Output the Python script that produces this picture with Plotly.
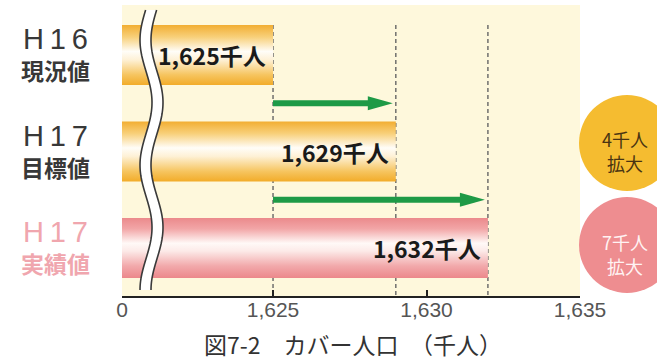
import numpy as np
import plotly.graph_objects as go

# ---- data -------------------------------------------------------------
era_labels = ["H16", "H17", "H17"]
kind_labels = ["現況値", "目標値", "実績値"]
cover_population = [1625, 1629, 1632]          # カバー人口（千人）
tick_values = [1625, 1630, 1635]
tick_labels = ["1,625", "1,630", "1,635"]
floor_label = "0"
badge_word = "拡大"
chart_title = "図7-2　カバー人口　（千人）"

# ---- geometry / style --------------------------------------------------
W, H = 657, 360
ML, MR, MT, MB = 122, 77, 5, 64
PW, PH = W - ML - MR, H - MT - MB
X_FLOOR, X_MAX = 1620.08, 1635          # broken axis: left edge stands for 0
Y_RANGE = [2.497, -0.518]
PX_X = PW / (X_MAX - X_FLOOR)
PX_Y = PH / (Y_RANGE[0] - Y_RANGE[1])
HALF = 0.31                             # half bar thickness (y units)

ORANGE = [[0, "#F2AC2A"], [0.17, "#F6C560"], [0.42, "#FEF1D6"], [0.56, "#FFFDF8"],
          [0.8, "#F8D07A"], [1, "#F2AE33"]]
PINK = [[0, "#EC888B"], [0.2, "#F2A9AB"], [0.45, "#FCEAE8"], [0.58, "#FFF9F7"],
        [0.82, "#F2A6A7"], [1, "#EB8A8C"]]
LABEL_COLORS = ["#383838", "#383838", "#F0A6AE"]
GREEN = "#1E9A46"


def px_to_paper(px, py):
    return (px - ML) / PW, 1 - (py - MT) / PH


fig = go.Figure()

# dashed reference lines at each value (behind the bars)
for v in cover_population:
    fig.add_shape(type="line", xref="x", yref="y", x0=v, x1=v,
                  y0=-HALF, y1=Y_RANGE[0], layer="below",
                  line=dict(color="#666666", width=1.4, dash="4px,3px"))

# gradient bars
scales = [ORANGE, ORANGE, PINK]
for i, v in enumerate(cover_population):
    fig.add_trace(go.Scatter(
        x=[0, v, v, 0, 0],
        y=[i - HALF, i - HALF, i + HALF, i + HALF, i - HALF],
        mode="lines", fill="toself", line=dict(width=0),
        fillgradient=dict(type="vertical", colorscale=scales[i]),
        hoverinfo="skip"))
    fig.add_annotation(x=v, y=i, xref="x", yref="y", text=f"{v:,}千人",
                       showarrow=False, xanchor="right", yanchor="middle", xshift=-5,
                       font=dict(family="Noto Sans CJK JP", size=23,
                                 color="#1A1A1A", weight="bold"))

# green increase arrows from the H16 value
shaft, head_h, head_l, tip_gap = 3 / PX_Y, 7 / PX_Y, 25 / PX_X, 3 / PX_X
base = cover_population[0]
for k, v in enumerate(cover_population[1:]):
    yc = k + 0.5
    tip = v - tip_gap
    xs = [base, tip - head_l, tip - head_l, tip, tip - head_l, tip - head_l, base, base]
    ys = [yc - shaft, yc - shaft, yc - head_h, yc, yc + head_h, yc + shaft, yc + shaft, yc - shaft]
    fig.add_trace(go.Scatter(x=xs, y=ys, mode="lines", fill="toself",
                             fillcolor=GREEN, line=dict(width=0, color=GREEN),
                             hoverinfo="skip"))

# axis break: double wavy line
ys_px = np.linspace(10, 290, 141)
left_px = 146 - 6 * np.cos(2 * np.pi * (ys_px - 40) / 125)
right_px = left_px + 11


def path_of(xs, ys, close=False):
    pts = [px_to_paper(a, b) for a, b in zip(xs, ys)]
    d = "M" + " L".join(f"{p[0]:.5f},{p[1]:.5f}" for p in pts)
    return d + (" Z" if close else "")


fig.add_shape(type="path", xref="paper", yref="paper", layer="above",
              path=path_of(np.r_[left_px, right_px[::-1]], np.r_[ys_px, ys_px[::-1]], True),
              fillcolor="white", line=dict(width=0))
for xs in (left_px, right_px):
    fig.add_shape(type="path", xref="paper", yref="paper", layer="above",
                  path=path_of(xs, ys_px), line=dict(color="#3A3A3A", width=1.6))

# row labels on the left
for i in range(3):
    xp, _ = px_to_paper(55, 0)
    fig.add_annotation(x=xp, y=i, xref="paper", yref="y", yshift=16,
                       xanchor="center", yanchor="middle",
                       text="\u2009".join(era_labels[i]), showarrow=False,
                       font=dict(family="Liberation Sans", size=29, color=LABEL_COLORS[i]))
    fig.add_annotation(x=xp, y=i, xref="paper", yref="y", yshift=-15,
                       xanchor="center", yanchor="middle",
                       text=kind_labels[i], showarrow=False,
                       font=dict(family="Noto Sans CJK JP", size=23,
                                 color=LABEL_COLORS[i], weight="bold"))

# increase badges
badges = [("#F5BC30", "#4A3412", 143, 139), ("#EE8D90", "#FFF3F3", 245, 242)]
for (fill, txt, cy, ty), v in zip(badges, cover_population[1:]):
    r = 48
    x0, y0 = px_to_paper(627 - r, cy + r)
    x1, y1 = px_to_paper(627 + r, cy - r)
    fig.add_shape(type="circle", xref="paper", yref="paper", x0=x0, y0=y0, x1=x1, y1=y1,
                  fillcolor=fill, line=dict(width=0), layer="above")
    for line_text, dy in ((f"{v - base}千人", 0), (badge_word, 24)):
        tx, typ = px_to_paper(625, ty + dy)
        fig.add_annotation(x=tx, y=typ, xref="paper", yref="paper",
                           xanchor="center", yanchor="middle", borderpad=0,
                           text=line_text, showarrow=False,
                           font=dict(family="Noto Sans CJK JP", size=18, color=txt))

# caption
cx, cy = px_to_paper(353, 344)
fig.add_annotation(x=cx, y=cy, xref="paper", yref="paper", text=chart_title,
                   xanchor="center", yanchor="middle", showarrow=False,
                   font=dict(family="Noto Sans CJK JP", size=23, color="#333333"))

fig.update_layout(
    width=W, height=H, margin=dict(l=ML, r=MR, t=MT, b=MB),
    paper_bgcolor="white", plot_bgcolor="#FEF8DC", showlegend=False,
    xaxis=dict(range=[X_FLOOR, X_MAX], tickvals=[X_FLOOR] + tick_values,
               ticktext=[floor_label] + tick_labels, ticks="inside", ticklen=6,
               tickwidth=1.5, tickcolor="#222222", showline=True,
               linecolor="#222222", linewidth=2, showgrid=False, zeroline=False,
               ticklabelstandoff=-6,
               tickfont=dict(family="Liberation Sans", size=21, color="#555555")),
    yaxis=dict(range=Y_RANGE, visible=False),
)

fig.write_html("out.html")
